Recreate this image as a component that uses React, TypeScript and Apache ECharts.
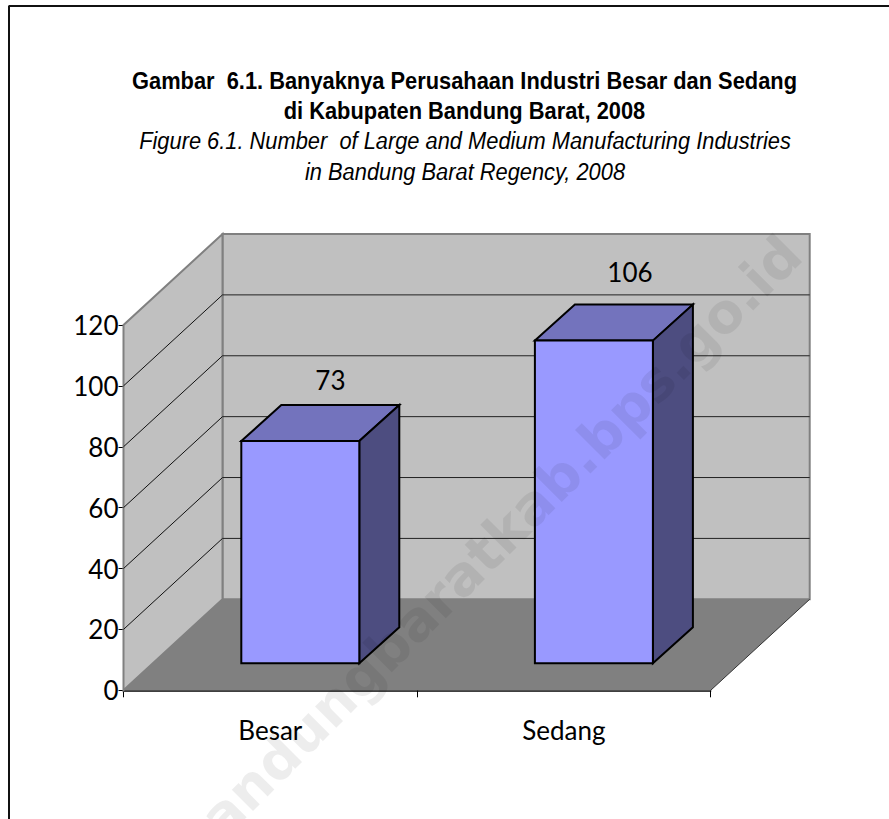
import React, { useEffect, useRef } from "react";
import * as echarts from "echarts";

const categories = ["Besar", "Sedang"];
const values = [73, 106];
const yTicks = [0, 20, 40, 60, 80, 100, 120];
const titleBold = [
  "Gambar  6.1. Banyaknya Perusahaan Industri Besar dan Sedang",
  "di Kabupaten Bandung Barat, 2008",
];
const titleItalic = [
  "Figure 6.1. Number  of Large and Medium Manufacturing Industries",
  "in Bandung Barat Regency, 2008",
];
const watermark = "bandungbaratkab.bps.go.id";

const WALL_DX = 99;
const WALL_DY = -91;
const BAR_SHIFT_X = 30;
const BAR_SHIFT_Y = -27;
const BAR_DX = 40;
const BAR_DY = -36;
const BAR_W = 118;
const LABEL_FONT = "Lato";

export default function App() {
  const ref = useRef<HTMLDivElement>(null);
  useEffect(() => {
    const chart = echarts.init(ref.current!, null, { renderer: "svg" });
    const poly = (points: number[][], fill: string, stroke?: string, lineWidth = 2) => ({
      type: "polygon",
      shape: { points },
      style: { fill, stroke: stroke ?? "none", lineWidth, lineJoin: "miter" },
    });
    const line = (a: number[], b: number[], stroke: string, lineWidth: number) => ({
      type: "line",
      shape: { x1: a[0], y1: a[1], x2: b[0], y2: b[1] },
      style: { stroke, lineWidth },
    });
    chart.setOption({
      animation: false,
      backgroundColor: "#ffffff",
      grid: { left: 123.5, top: 325, width: 587.2, height: 365.3, containLabel: false },
      xAxis: {
        type: "category",
        data: categories,
        boundaryGap: true,
        axisLine: { show: true, lineStyle: { color: "#000", width: 1.5 } },
        axisTick: { show: true, length: 7, alignWithLabel: false, lineStyle: { color: "#000", width: 1 } },
        axisLabel: { color: "#000", fontFamily: LABEL_FONT, fontSize: 26, margin: 27 },
        splitLine: { show: false },
      },
      yAxis: {
        type: "value",
        min: 0,
        max: 120,
        interval: 20,
        axisLine: { show: true, lineStyle: { color: "#000", width: 1.5 } },
        axisTick: { show: true, length: 5, lineStyle: { color: "#000", width: 1 } },
        axisLabel: { color: "#000", fontFamily: LABEL_FONT, fontSize: 26, margin: 5, padding: [5, 0, 0, 0] },
        splitLine: { show: false },
      },
      series: [
        {
          type: "custom",
          name: "walls",
          silent: true,
          z: 1,
          data: yTicks.map((t) => [0, t]),
          encode: { x: 0, y: 1 },
          renderItem: (params: any, api: any) => {
            const t = api.value(1);
            const c = api.coord([0, t]);
            const half = api.size([1, 0])[0] / 2;
            const left = c[0] - half;
            const right = left + half * 4;
            const y = c[1];
            const children: any[] = [];
            if (t === 0) {
              const top = api.coord([0, 120])[1];
              children.push(
                poly([[left + WALL_DX, top + WALL_DY], [right + WALL_DX, top + WALL_DY], [right + WALL_DX, y + WALL_DY], [left + WALL_DX, y + WALL_DY]], "#c0c0c0", "#808080", 2),
                poly([[left, top], [left + WALL_DX, top + WALL_DY], [left + WALL_DX, y + WALL_DY], [left, y]], "#c0c0c0", "#808080", 2),
                poly([[left, y], [left + WALL_DX, y + WALL_DY], [right + WALL_DX, y + WALL_DY], [right, y]], "#808080", "none"),
                line([right, y], [right + WALL_DX, y + WALL_DY], "#333333", 1)
              );
            } else if (t < 120) {
              children.push(
                line([left, y], [left + WALL_DX, y + WALL_DY], "#111111", 1),
                line([left + WALL_DX, y + WALL_DY], [right + WALL_DX, y + WALL_DY], "#222222", 1)
              );
            }
            return { type: "group", children };
          },
        },
        {
          type: "custom",
          name: "Jumlah",
          silent: true,
          z: 3,
          data: values.map((v, i) => [i, v]),
          encode: { x: 0, y: 1 },
          renderItem: (params: any, api: any) => {
            const i = api.value(0);
            const v = api.value(1);
            const top = api.coord([i, v]);
            const base = api.coord([i, 0]);
            const xl = top[0] + BAR_SHIFT_X - BAR_W / 2;
            const xr = xl + BAR_W;
            const yt = top[1] + BAR_SHIFT_Y;
            const yb = base[1] + BAR_SHIFT_Y;
            return {
              type: "group",
              children: [
                poly([[xl, yt], [xr, yt], [xr + BAR_DX, yt + BAR_DY], [xl + BAR_DX, yt + BAR_DY]], "#7373bd", "#000", 2),
                poly([[xr, yt], [xr + BAR_DX, yt + BAR_DY], [xr + BAR_DX, yb + BAR_DY], [xr, yb]], "#4d4d80", "#000", 2),
                poly([[xl, yt], [xr, yt], [xr, yb], [xl, yb]], "#9999ff", "#000", 2),
                {
                  type: "text",
                  style: {
                    text: String(v),
                    x: top[0] + BAR_SHIFT_X + 17 + 0.18 * v,
                    y: yt - 43.4 - 0.236 * v,
                    fill: "#000",
                    fontFamily: LABEL_FONT,
                    fontSize: 26,
                    align: "center",
                    verticalAlign: "middle",
                  },
                },
              ],
            };
          },
        },
      ],
      graphic: [
        { type: "line", z: 10, shape: { x1: 8.5, y1: 6, x2: 889, y2: 6 }, style: { stroke: "#111", lineWidth: 2 } },
        { type: "line", z: 10, shape: { x1: 9, y1: 6, x2: 9, y2: 819 }, style: { stroke: "#111", lineWidth: 2 } },
        ...titleBold.map((t, i) => ({
          type: "text",
          z: 10,
          x: 464.5,
          y: [81, 111][i],
          scaleX: 0.91,
          style: { text: t, fill: "#000", fontFamily: "Liberation Sans", fontWeight: "bold", fontSize: 24, align: "center", verticalAlign: "middle" },
        })),
        ...titleItalic.map((t, i) => ({
          type: "text",
          z: 10,
          x: 465,
          y: [141, 172][i],
          scaleX: 0.91,
          style: { text: t, fill: "#000", fontFamily: "Liberation Sans", fontStyle: "italic", fontSize: 24, align: "center", verticalAlign: "middle" },
        })),
        {
          type: "text",
          z: 20,
          x: 487,
          y: 550,
          rotation: Math.PI / 4,
          silent: true,
          style: { text: watermark, fill: "rgba(0,0,0,0.07)", fontFamily: "DejaVu Sans", fontWeight: "bold", fontSize: 55, align: "center", verticalAlign: "middle" },
        },
      ],
    });
    return () => chart.dispose();
  }, []);
  return <div ref={ref} style={{ position: "absolute", left: 0, top: 0, width: 889, height: 819 }} />;
}
